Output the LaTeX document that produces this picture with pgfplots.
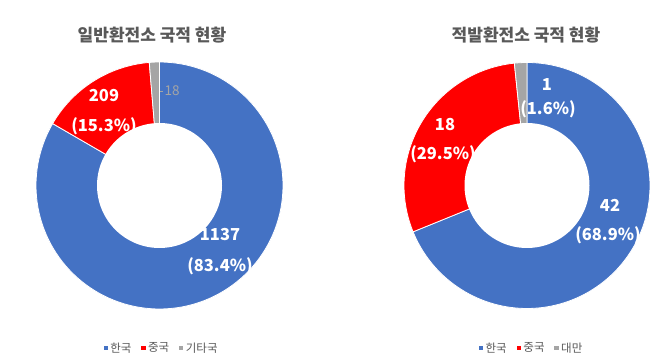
\documentclass[border=0pt]{standalone}
\usepackage{pgfplots}
\pgfplotsset{compat=1.18}
\usepackage{fontspec}
\setmainfont{Noto Sans CJK KR}
\definecolor{kblue}{HTML}{4472C4}
\definecolor{kred}{HTML}{FF0000}
\definecolor{kgray}{HTML}{A5A5A5}
\definecolor{ktext}{HTML}{595959}
\pgfplotsset{donut/.style={
  x=1pt, y=1pt, ymin=0, ymax=362, hide axis, clip=false, anchor=south west,
  legend image code/.code={\fill[##1] (0pt,-2.6pt) rectangle (5.2pt,2.6pt);},
  legend style={draw=none, fill=none, legend columns=3, anchor=center,
    font=\fontsize{11.5}{13}\selectfont\color{ktext},
    /tikz/every odd column/.append style={column sep=0pt},
    /tikz/every even column/.append style={column sep=7pt},
    nodes={inner sep=1.8pt}},
}}
\begin{document}
\begin{tikzpicture}
\fill[white] (0,0) rectangle (670pt,362pt);
% ---------- left chart ----------
\def\cx{159.5}\def\cy{176.5}\def\R{123.5}\def\r{62.5}
\pgfmathsetmacro{\tot}{1137+209+18}
\pgfmathsetmacro{\aB}{90-360*(1137/\tot)}
\pgfmathsetmacro{\aC}{\aB-360*(209/\tot)}
\pgfmathsetmacro{\aD}{\aC-360*(18/\tot)}
\begin{axis}[donut, at={(0pt,0pt)}, xmin=0, xmax=335,
  legend style={at={(axis cs:161,14)}}]
\addplot[fill=kblue, draw=white, line width=0.8pt, domain=\aB:90, samples=120]
  ({\cx+\R*cos(x)},{\cy+\R*sin(x)}) -- (axis cs:\cx,\cy) -- cycle;
\addlegendentry{한국}
\addplot[fill=kred, draw=white, line width=0.8pt, domain=\aC:\aB, samples=40]
  ({\cx+\R*cos(x)},{\cy+\R*sin(x)}) -- (axis cs:\cx,\cy) -- cycle;
\addlegendentry{중국}
\addplot[fill=kgray, draw=white, line width=0.8pt, domain=\aD:\aC, samples=10]
  ({\cx+\R*cos(x)},{\cy+\R*sin(x)}) -- (axis cs:\cx,\cy) -- cycle;
\addlegendentry{기타국}
\addplot[fill=white, draw=none, domain=0:360, samples=120, forget plot]
  ({\cx+\r*cos(x)},{\cy+\r*sin(x)}) -- cycle;
\node[font=\fontsize{17}{19}\selectfont\bfseries, text=ktext] at (axis cs:152,327) {일반환전소 국적 현황};
\node[font=\fontsize{16.5}{18}\selectfont\bfseries, text=white] at (axis cs:104,266) {209};
\node[font=\fontsize{16.5}{18}\selectfont\bfseries, text=white] at (axis cs:104,236) {(15.3\%)};
\node[font=\fontsize{16.5}{18}\selectfont\bfseries, text=white] at (axis cs:220,127) {1137};
\node[font=\fontsize{16.5}{18}\selectfont\bfseries, text=white] at (axis cs:220,96) {(83.4\%)};
\draw[kgray, line width=0.5pt] (axis cs:160,271) -- (axis cs:163,271);
\node[font=\fontsize{13.5}{15}\selectfont, text=kgray] at (axis cs:172,271) {18};
\end{axis}
% ---------- right chart ----------
\def\cx{527}\def\cy{176.5}\def\R{123}\def\r{62.5}
\pgfmathsetmacro{\tot}{42+18+1}
\pgfmathsetmacro{\aB}{90-360*(42/\tot)}
\pgfmathsetmacro{\aC}{\aB-360*(18/\tot)}
\pgfmathsetmacro{\aD}{\aC-360*(1/\tot)}
\begin{axis}[donut, at={(335pt,0pt)}, xmin=335, xmax=670,
  legend style={at={(axis cs:531,14)}}]
\addplot[fill=kblue, draw=white, line width=0.8pt, domain=\aB:90, samples=120]
  ({\cx+\R*cos(x)},{\cy+\R*sin(x)}) -- (axis cs:\cx,\cy) -- cycle;
\addlegendentry{한국}
\addplot[fill=kred, draw=white, line width=0.8pt, domain=\aC:\aB, samples=60]
  ({\cx+\R*cos(x)},{\cy+\R*sin(x)}) -- (axis cs:\cx,\cy) -- cycle;
\addlegendentry{중국}
\addplot[fill=kgray, draw=white, line width=0.8pt, domain=\aD:\aC, samples=10]
  ({\cx+\R*cos(x)},{\cy+\R*sin(x)}) -- (axis cs:\cx,\cy) -- cycle;
\addlegendentry{대만}
\addplot[fill=white, draw=none, domain=0:360, samples=120, forget plot]
  ({\cx+\r*cos(x)},{\cy+\r*sin(x)}) -- cycle;
\node[font=\fontsize{17}{19}\selectfont\bfseries, text=ktext] at (axis cs:526,327) {적발환전소 국적 현황};
\node[font=\fontsize{16.5}{18}\selectfont\bfseries, text=white] at (axis cs:547,277) {1};
\node[font=\fontsize{16.5}{18}\selectfont\bfseries, text=white] at (axis cs:548,253) {(1.6\%)};
\node[font=\fontsize{16.5}{18}\selectfont\bfseries, text=white] at (axis cs:445,237) {18};
\node[font=\fontsize{16.5}{18}\selectfont\bfseries, text=white] at (axis cs:443,208) {(29.5\%)};
\node[font=\fontsize{16.5}{18}\selectfont\bfseries, text=white] at (axis cs:610,157) {42};
\node[font=\fontsize{16.5}{18}\selectfont\bfseries, text=white] at (axis cs:608,127) {(68.9\%)};
\end{axis}
\end{tikzpicture}
\end{document}
